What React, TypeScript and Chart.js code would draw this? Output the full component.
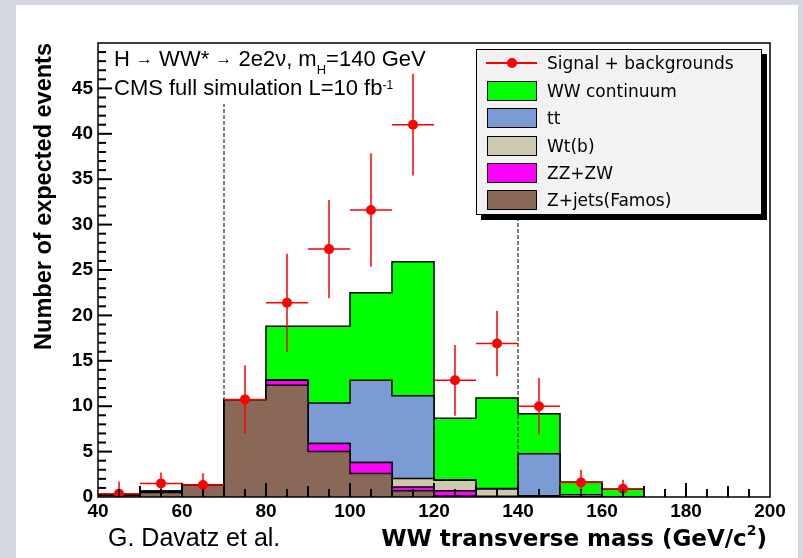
import React, { useEffect, useRef } from "react";
import { Chart, registerables } from "chart.js";

Chart.register(...registerables);

// ---------- data ----------
const binEdges = [40, 50, 60, 70, 80, 90, 100, 110, 120, 130, 140, 150, 160, 170];
// per-bin contents of each background (stacked bottom -> top)
const zJetsValues = [0.2, 0.5, 1.3, 10.7, 12.3, 5.0, 2.6, 0.7, 0.1, 0.03, 0, 0, 0];
const zzZwValues = [0, 0.1, 0, 0, 0.55, 0.9, 1.2, 0.4, 0.6, 0.05, 0.05, 0, 0];
const wtbValues = [0, 0, 0, 0, 0, 0, 0, 0.95, 1.15, 0.8, 0.1, 0.25, 0.03];
const ttValues = [0, 0, 0, 0, 0, 4.45, 9.05, 9.1, 0.05, 0.05, 4.6, 0, 0];
const wwValues = [0, 0.05, 0, 0, 5.95, 8.45, 9.65, 14.75, 6.77, 9.97, 4.42, 1.4, 0.85];

const signalCenters = [45, 55, 65, 75, 85, 95, 105, 115, 125, 135, 145, 155, 165];
const signalValues = [0.37, 1.5, 1.32, 10.75, 21.4, 27.3, 31.6, 41.0, 12.85, 16.9, 10.0, 1.6, 0.9];
const signalErrors = [1.35, 1.2, 1.3, 3.75, 5.4, 5.4, 6.25, 5.6, 3.9, 3.6, 3.1, 1.4, 1.0];
const binHalfWidth = 5;

const cutPositions = [70, 140];
const cutTop = 43.3;

const xTickLabels = [40, 60, 80, 100, 120, 140, 160, 180, 200];
const yTickLabels = [0, 5, 10, 15, 20, 25, 30, 35, 40, 45];

const seriesNames = ["Z+jets(Famos)", "ZZ+ZW", "Wt(b)", "tt", "WW continuum"];
const seriesColors = ["#8a6858", "#ff00ff", "#cec9ae", "#7a9bd4", "#00ff00"];
const seriesValues = [zJetsValues, zzZwValues, wtbValues, ttValues, wwValues];

const X_MIN = 40;
const X_MAX = 200;
const Y_MIN = 0;
const Y_MAX = 50;

// ---------- helpers ----------
function stepPoints(vals: number[]) {
  const pts: { x: number; y: number }[] = [{ x: binEdges[0], y: 0 }];
  vals.forEach((v, i) => pts.push({ x: binEdges[i], y: v }));
  const last = binEdges[binEdges.length - 1];
  pts.push({ x: last, y: vals[vals.length - 1] });
  pts.push({ x: last, y: 0 });
  return pts;
}

const SANS = "'Liberation Sans', Arial, sans-serif";
const DEJAVU = "'DejaVu Sans', sans-serif";

// ROOT-style frame with inward tick marks
const framePlugin = {
  id: "rootFrame",
  afterDraw(chart: any) {
    const ctx: CanvasRenderingContext2D = chart.ctx;
    const a = chart.chartArea;
    const ys = chart.scales.y;
    const xs = chart.scales.x;
    ctx.save();
    ctx.setLineDash([]);
    ctx.strokeStyle = "#000000";
    ctx.lineWidth = 2;
    for (let v = Y_MIN + 1; v < Y_MAX; v += 1) {
      const py = ys.getPixelForValue(v);
      const len = v % 5 === 0 ? 14 : 8;
      ctx.beginPath();
      ctx.moveTo(a.left, py);
      ctx.lineTo(a.left + len, py);
      ctx.stroke();
    }
    for (let v = X_MIN + 5; v < X_MAX; v += 5) {
      const px = xs.getPixelForValue(v);
      const len = v % 20 === 0 ? 14 : v % 10 === 0 ? 11 : 8;
      ctx.beginPath();
      ctx.moveTo(px, a.bottom);
      ctx.lineTo(px, a.bottom - len);
      ctx.stroke();
    }
    ctx.lineWidth = 1.5;
    ctx.strokeRect(a.left, a.top, a.right - a.left, a.bottom - a.top);
    ctx.restore();
  },
};

export default function App() {
  const canvasRef = useRef<HTMLCanvasElement | null>(null);

  useEffect(() => {
    if (!canvasRef.current) return;
    const cum: number[][] = [];
    seriesValues.forEach((vals, k) => {
      cum.push(vals.map((v, i) => v + (k > 0 ? cum[k - 1][i] : 0)));
    });

    const histSets = cum.map((vals, k) => ({
      type: "line",
      label: seriesNames[k],
      data: stepPoints(vals),
      borderColor: "#000",
      borderWidth: 1.5,
      backgroundColor: seriesColors[k],
      fill: "origin",
      stepped: "before",
      pointRadius: 0,
      order: 10 + k,
    }));

    const cutData: any[] = [];
    cutPositions.forEach((c) => {
      cutData.push({ x: c, y: 0 }, { x: c, y: cutTop }, { x: c, y: null });
    });

    const errData: any[] = [];
    signalCenters.forEach((c, i) => {
      const v = signalValues[i];
      const e = signalErrors[i];
      errData.push({ x: c, y: Math.max(0, v - e) }, { x: c, y: v + e }, { x: c, y: null });
      errData.push({ x: c - binHalfWidth, y: v }, { x: c + binHalfWidth, y: v }, { x: c + binHalfWidth, y: null });
    });

    const chart = new Chart(canvasRef.current, {
      type: "line",
      data: {
        datasets: [
          ...histSets,
          {
            type: "line",
            label: "cuts",
            data: cutData,
            borderColor: "#000",
            borderWidth: 1,
            borderDash: [4, 2],
            pointRadius: 0,
            fill: false,
            spanGaps: false,
            order: 5,
          },
          {
            type: "line",
            label: "errors",
            data: errData,
            borderColor: "#ff0000",
            borderWidth: 1.5,
            pointRadius: 0,
            fill: false,
            spanGaps: false,
            order: 2,
          },
          {
            type: "line",
            label: "Signal + backgrounds",
            data: signalCenters.map((c, i) => ({ x: c, y: signalValues[i] })),
            showLine: false,
            pointRadius: 5,
            pointBackgroundColor: "#ff0000",
            pointBorderColor: "#ff0000",
            pointBorderWidth: 0,
            order: 1,
          },
        ] as any,
      },
      options: {
        responsive: false,
        animation: false,
        events: [],
        layout: { padding: { left: 0, top: 43, right: 33, bottom: 0 } },
        plugins: {
          legend: { display: false },
          tooltip: { enabled: false },
        },
        scales: {
          x: {
            type: "linear",
            min: X_MIN,
            max: X_MAX,
            grid: { display: false, drawTicks: false },
            border: { display: false },
            ticks: {
              stepSize: 20,
              autoSkip: false,
              maxRotation: 0,
              padding: 3,
              color: "#000",
              font: { family: SANS, size: 19, weight: "bold" },
              callback: (v: any) => (xTickLabels.includes(Number(v)) ? String(v) : ""),
            },
            afterFit: (s: any) => {
              s.height = 61;
            },
          },
          y: {
            type: "linear",
            min: Y_MIN,
            max: Y_MAX,
            grid: { display: false, drawTicks: false },
            border: { display: false },
            ticks: {
              stepSize: 5,
              autoSkip: false,
              padding: 5,
              color: "#000",
              font: { family: SANS, size: 19, weight: "bold" },
              callback: (v: any) => (yTickLabels.includes(Number(v)) ? String(v) : ""),
            },
            title: {
              display: true,
              text: "Number of expected events",
              align: "end",
              color: "#000",
              font: { family: SANS, size: 23.5, weight: "bold" },
              padding: { top: 30, bottom: 0 },
            },
            afterFit: (s: any) => {
              s.width = 98;
            },
          },
        },
      } as any,
      plugins: [framePlugin],
    });
    return () => chart.destroy();
  }, []);

  const legendRows = [
    { name: seriesNames[4], color: seriesColors[4], y: 91 },
    { name: seriesNames[3], color: seriesColors[3], y: 118 },
    { name: seriesNames[2], color: seriesColors[2], y: 145.5 },
    { name: seriesNames[1], color: seriesColors[1], y: 172.5 },
    { name: seriesNames[0], color: seriesColors[0], y: 200 },
  ];

  const abs = (s: any) => ({ position: "absolute", ...s });
  const arrow = { fontSize: 17, position: "relative" as const, top: -2 };

  return (
    <div style={{ position: "fixed", left: 0, top: 0, width: 803, height: 558, background: "#d3d7df", overflow: "hidden" }}>
      <div style={abs({ left: 16, top: 5, width: 782, height: 553, background: "#ffffff" })} />
      <canvas ref={canvasRef} width={803} height={558} style={abs({ left: 0, top: 0, width: 803, height: 558 })} />

      {/* top-left annotations */}
      <div style={abs({ left: 114, top: 47.9, fontFamily: SANS, fontSize: 22, lineHeight: "22px", color: "#000", whiteSpace: "nowrap" })}>
        H <span style={arrow}>→</span> WW* <span style={arrow}>→</span> 2e2ν, m
        <span style={{ fontSize: 13, position: "relative", top: 8, lineHeight: "0" }}>H</span>=140 GeV
      </div>
      <div style={abs({ left: 114, top: 77.1, fontFamily: SANS, fontSize: 22, lineHeight: "22px", color: "#000", whiteSpace: "nowrap" })}>
        CMS full simulation L=10 fb
        <span style={{ fontSize: 12, position: "relative", top: -6, lineHeight: "0" }}>-1</span>
      </div>

      {/* legend */}
      <div
        style={abs({
          left: 476,
          top: 49,
          width: 286,
          height: 166,
          boxSizing: "border-box",
          border: "1px solid #000",
          background: "#f2f2f2",
          boxShadow: "5px 5px 0 #000",
        })}
      />
      <div style={abs({ left: 486, top: 62.25, width: 51, height: 1.5, background: "#ff0000" })} />
      <div style={abs({ left: 506.5, top: 58, width: 10, height: 10, borderRadius: 5, background: "#ff0000" })} />
      <div style={abs({ left: 547, top: 53, height: 20, lineHeight: "20px", fontFamily: DEJAVU, fontSize: 17, color: "#000", whiteSpace: "nowrap" })}>
        Signal + backgrounds
      </div>
      {legendRows.map((r) => (
        <React.Fragment key={r.name}>
          <div
            style={abs({
              left: 486.5,
              top: r.y - 10,
              width: 50,
              height: 20,
              boxSizing: "border-box",
              border: "1.5px solid #000",
              background: r.color,
            })}
          />
          <div style={abs({ left: 547, top: r.y - 10, height: 20, lineHeight: "20px", fontFamily: DEJAVU, fontSize: 17, color: "#000", whiteSpace: "nowrap" })}>
            {r.name}
          </div>
        </React.Fragment>
      ))}

      {/* bottom texts */}
      <div style={abs({ left: 108, top: 525.3, fontFamily: SANS, fontSize: 25, lineHeight: "25px", color: "#000", whiteSpace: "nowrap" })}>
        G. Davatz et al.
      </div>
      <div
        style={abs({
          right: 36,
          top: 526.8,
          fontFamily: DEJAVU,
          fontWeight: "bold",
          fontSize: 23,
          lineHeight: "23px",
          color: "#000",
          whiteSpace: "nowrap",
        })}
      >
        WW transverse mass (GeV/c
        <span style={{ fontSize: 14, position: "relative", top: -11, lineHeight: "0" }}>2</span>)
      </div>
    </div>
  );
}
